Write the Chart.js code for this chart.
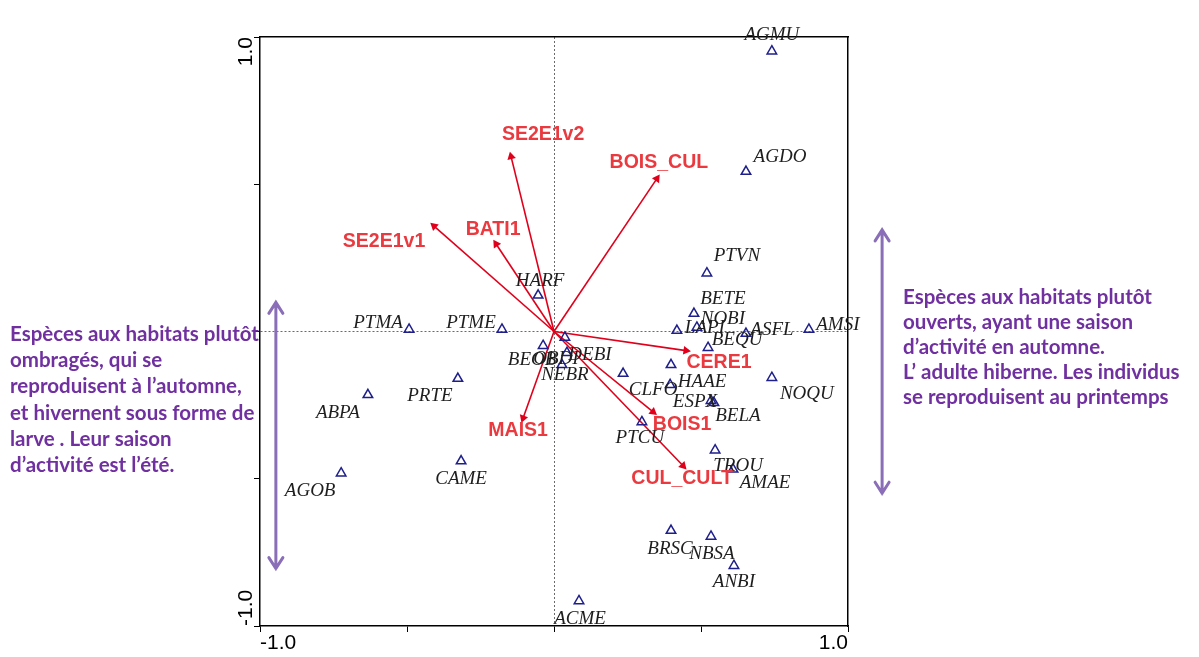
<!DOCTYPE html>
<html lang="fr">
<head>
<meta charset="utf-8">
<script src="https://cdn.jsdelivr.net/npm/chart.js@4.4.0/dist/chart.umd.min.js"></script>
<style>
  html, body { margin: 0; padding: 0; background: #fff; }
  #cadre { position: relative; width: 1199px; height: 657px; }
</style>
</head>
<body>
<div id="cadre"><canvas id="graficoACC"></canvas></div>
<script>
// especes (triangles bleus)
const especes = ["AGMU", "AGDO", "PTVN", "BETE", "NOBI", "LAPI", "ASFL", "AMSI", "BEQU", "", "NOQU",
  "HAAE", "CLFO", "ESPX", "BELA", "PTCU", "TROU", "AMAE", "BRSC", "NBSA", "ANBI", "ACME",
  "PTMA", "PTME", "HARF", "PRTE", "ABPA", "AGOB", "CAME", "BEOB", "OBDI", "DEBI", "NEBR"];
const especesX = [0.741, 0.653, 0.520, 0.476, 0.486, 0.418, 0.653, 0.867, 0.524, 0.398, 0.741,
  0.395, 0.235, 0.534, 0.544, 0.299, 0.548, 0.609, 0.398, 0.534, 0.612, 0.085,
  -0.493, -0.177, -0.054, -0.327, -0.633, -0.724, -0.316, -0.037, 0.037, 0.044, 0.027];
const especesY = [0.952, 0.543, 0.198, 0.061, 0.014, 0.003, -0.007, 0.007, -0.055, -0.113, -0.157,
  -0.181, -0.143, -0.235, -0.242, -0.307, -0.403, -0.468, -0.676, -0.696, -0.795, -0.915,
  0.007, 0.007, 0.123, -0.160, -0.215, -0.481, -0.440, -0.048, -0.020, -0.072, -0.113];

// variables environnementales (fleches rouges)
const variables = ["SE2E1v2", "BOIS_CUL", "SE2E1v1", "BATI1", "CERE1", "BOIS1", "CUL_CULT", "MAIS1"];
const variablesX = [-0.146, 0.350, -0.408, -0.197, 0.449, 0.337, 0.439, -0.105];
const variablesY = [0.594, 0.519, 0.358, 0.297, -0.065, -0.273, -0.456, -0.294];

// graduations
const graduations = [-1, -0.5, 0, 0.5, 1];
const etiquettesX = { "-1": "-1.0", "1": "1.0" };
const etiquettesY = { "-1": "-1.0", "1": "1.0" };

// decalage des etiquettes (pixels)
const decalageEspeces = [[0,-16],[34,-15],[30,-17],[29,-15],[26,-8],[28,-3],[26,-4],[29,-4],[29,-8],[0,0],[35,16],
  [32,-3],[30,16],[-16,1],[24,13],[-2,16],[23,16],[32,14],[-1,18],[1,18],[0,16],[1,18],
  [-31,-6],[-31,-6],[2,-14],[-28,17],[-30,18],[-31,18],[0,18],[-11,14],[-9,22],[23,2],[3,10]];
const decalageVariables = [[32,-22],[2,-16],[-50,16],[-3,-14],[33,12],[29,13],[-1,13],[-5,13]];

// commentaires violets
const texteGauche = ["Espèces aux habitats plutôt", "ombragés, qui se", "reproduisent à l’automne,",
  "et hivernent sous forme de", "larve . Leur saison", "d’activité est l’été."];
const texteDroite = ["Espèces aux habitats plutôt", "ouverts, ayant une saison", "d’activité en automne.",
  "L’ adulte hiberne. Les individus", "se reproduisent au printemps"];
// doubles fleches violettes (coordonnees du plan)
const flecheGauche = { x: -0.946, y1: 0.099, y2: -0.805 };
const flecheDroite = { x: 1.116, y1: 0.345, y2: -0.549 };

const VIOLET = "#7030a0";
const ROUGE = "#e0001b";
const ROUGE_TEXTE = "#ea3a3f";
const BLEU = "#1f1f8c";

const datasets = [{
  label: "especes",
  data: especesX.map((x, i) => ({ x: x, y: especesY[i] })),
  showLine: false,
  pointStyle: "triangle",
  pointRadius: 5.5,
  pointBorderWidth: 1.5,
  pointBorderColor: BLEU,
  pointBackgroundColor: "rgba(255,255,255,0)",
  order: 0
}];

for (let i = 0; i < variables.length; i++) {
  const angle = Math.atan2(variablesX[i], variablesY[i]) * 180 / Math.PI;
  datasets.push({
    label: variables[i],
    data: [{ x: 0, y: 0 }, { x: variablesX[i], y: variablesY[i] }],
    showLine: true,
    borderColor: ROUGE,
    borderWidth: 1.6,
    pointStyle: "triangle",
    pointRadius: [0, 5],
    pointRotation: [0, angle],
    pointBorderWidth: 0,
    pointBackgroundColor: ROUGE,
    pointBorderColor: ROUGE,
    order: 1
  });
}

function dessinerFleche(ctx, x, ya, yb) {
  const pointe = 7;
  ctx.beginPath();
  ctx.moveTo(x, ya);
  ctx.lineTo(x, yb);
  ctx.moveTo(x - pointe, ya + 11);
  ctx.lineTo(x, ya);
  ctx.lineTo(x + pointe, ya + 11);
  ctx.moveTo(x - pointe, yb - 11);
  ctx.lineTo(x, yb);
  ctx.lineTo(x + pointe, yb - 11);
  ctx.stroke();
}

const pluginEtiquettes = {
  id: "etiquettes",
  afterDatasetsDraw(chart) {
    const ctx = chart.ctx;
    const sx = chart.scales.x;
    const sy = chart.scales.y;
    ctx.save();
    ctx.textAlign = "center";
    ctx.textBaseline = "middle";

    // noms des especes
    ctx.font = "italic 19px 'Liberation Serif'";
    ctx.fillStyle = "#1e1e1e";
    const pts = chart.getDatasetMeta(0).data;
    pts.forEach((p, i) => {
      if (!especes[i]) return;
      ctx.fillText(especes[i], p.x + decalageEspeces[i][0], p.y + decalageEspeces[i][1]);
    });

    // noms des variables
    ctx.font = "bold 19.5px 'Liberation Sans'";
    ctx.fillStyle = ROUGE_TEXTE;
    for (let i = 0; i < variables.length; i++) {
      const p = chart.getDatasetMeta(i + 1).data[1];
      ctx.fillText(variables[i], p.x + decalageVariables[i][0], p.y + decalageVariables[i][1]);
    }

    // graduations verticales (texte tourne)
    ctx.font = "21px 'Liberation Sans'";
    ctx.fillStyle = "#000";
    graduations.forEach((v) => {
      const t = etiquettesY[String(v)];
      if (!t) return;
      ctx.save();
      ctx.translate(sx.left - 14, sy.getPixelForValue(v));
      ctx.rotate(-Math.PI / 2);
      ctx.textAlign = v > 0 ? "right" : "left";
      ctx.fillText(t, 0, 0);
      ctx.restore();
    });

    // doubles fleches violettes
    ctx.strokeStyle = "#8a6fb8";
    ctx.lineWidth = 3;
    ctx.lineCap = "round";
    dessinerFleche(ctx, sx.getPixelForValue(flecheGauche.x), sy.getPixelForValue(flecheGauche.y1), sy.getPixelForValue(flecheGauche.y2));
    dessinerFleche(ctx, sx.getPixelForValue(flecheDroite.x), sy.getPixelForValue(flecheDroite.y1), sy.getPixelForValue(flecheDroite.y2));

    // commentaires
    ctx.font = "bold 20.5px Lato";
    ctx.fillStyle = VIOLET;
    ctx.textAlign = "left";
    texteGauche.forEach((l, i) => ctx.fillText(l, 10, 334 + i * 26.3));
    texteDroite.forEach((l, i) => ctx.fillText(l, 903, 297 + i * 25.2));
    ctx.restore();
  }
};

const couleurZero = (c) => (c.tick && c.tick.value === 0 ? "#6a6a6a" : "rgba(0,0,0,0)");

new Chart(document.getElementById("graficoACC"), {
  type: "scatter",
  data: { datasets: datasets },
  options: {
    animation: false,
    responsive: true,
    maintainAspectRatio: false,
    layout: { padding: { left: 254, right: 351, top: 37, bottom: 2 } },
    plugins: { legend: { display: false }, tooltip: { enabled: false } },
    scales: {
      x: {
        type: "linear", position: "bottom", min: -1, max: 1,
        afterBuildTicks: (s) => { s.ticks = graduations.map((v) => ({ value: v })); },
        ticks: {
          align: "inner", padding: 1, color: "#000",
          font: { family: "'Liberation Sans'", size: 21, lineHeight: 1 },
          callback: (v) => etiquettesX[String(v)] || ""
        },
        grid: { color: couleurZero, tickColor: "#000", tickLength: 6, lineWidth: 1 },
        border: { color: "#000", width: 1.5, dash: [2, 2] }
      },
      y: {
        type: "linear", position: "left", min: -1, max: 1,
        afterBuildTicks: (s) => { s.ticks = graduations.map((v) => ({ value: v })); },
        ticks: { display: false },
        grid: { color: couleurZero, tickColor: "#000", tickLength: 6, lineWidth: 1 },
        border: { color: "#000", width: 1.5, dash: [2, 2] }
      },
      x2: {
        type: "linear", position: "top", min: -1, max: 1,
        ticks: { display: false },
        grid: { display: false, drawTicks: false },
        border: { color: "#000", width: 1.5 }
      },
      y2: {
        type: "linear", position: "right", min: -1, max: 1,
        ticks: { display: false },
        grid: { display: false, drawTicks: false },
        border: { color: "#000", width: 1.5 }
      }
    }
  },
  plugins: [pluginEtiquettes]
});
</script>
</body>
</html>
